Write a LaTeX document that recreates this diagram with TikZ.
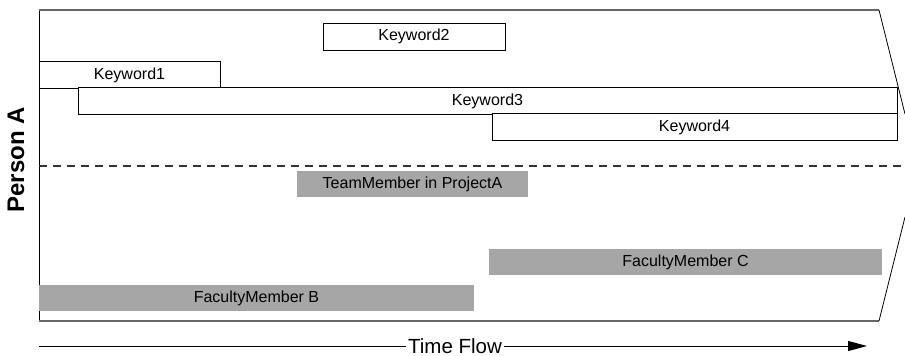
\documentclass[tikz,border=0pt]{standalone}
\usepackage{fontspec}
\setmainfont{Liberation Sans}
\usetikzlibrary{arrows.meta}
\begin{document}
\begin{tikzpicture}
[x=1pt,y=-1pt,
  kwdecorate/.style={shape=rectangle,draw=black,fill=white,line width=0.8pt,
    minimum height=26.5pt,inner sep=0pt,outer sep=0pt,
    font=\fontsize{16}{19}\selectfont},%
  roledecorate/.style={shape=rectangle,fill=black!35,draw=none,
    minimum height=26pt,inner sep=0pt,outer sep=0pt,
    font=\fontsize{16}{19}\selectfont},%
  framedecorate/.style={draw=black!60,line width=1.6pt},%
  arrowdecorate/.style={-{Triangle[length=19pt,width=10pt]},line width=1pt}]
\useasboundingbox (0,0) rectangle (905,356);
% frame of the time line
\draw[line width=0.9pt] (39,10) -- (39,321);
\draw[framedecorate] (39,10) -- (879,10);
\draw[framedecorate] (39,321) -- (879,321);
\draw[line width=0.8pt] (879,10) -- (905,114);
\draw[line width=0.8pt] (879,321) -- (905,217);
\draw[black!80,line width=1.1pt,dash pattern=on 8pt off 6pt] (39,166) -- (905,166);
% nodes: keywords
\node (kw2) at (414,36.75) [kwdecorate,minimum width=182pt] {Keyword2};
\node (kw1) at (129.5,75) [kwdecorate,minimum width=181pt] {Keyword1};
\node (kw3) at (487.5,101) [kwdecorate,minimum width=819pt] {Keyword3};
\node (kw4) at (694.5,127) [kwdecorate,minimum width=405pt] {Keyword4};
% nodes: roles
\node (team) at (412.5,184) [roledecorate,minimum width=231pt] {TeamMember in ProjectA};
\node (facC) at (685.5,262) [roledecorate,minimum width=393pt] {FacultyMember C};
\node (facB) at (256.5,298) [roledecorate,minimum width=435pt] {FacultyMember B};
% person and time axis
\node (person) at (16,160) [rotate=90,font=\fontsize{24}{28}\selectfont\bfseries] {Person A};
\coordinate (tstart) at (39,346);
\coordinate (tend) at (867,346);
\node (flow) at (455,346) [inner sep=2pt,font=\fontsize{20.5}{24}\selectfont] {Time Flow};
\path
(tstart) edge[line width=1pt] (flow.west)
(flow.east) edge[arrowdecorate] (tend);
\end{tikzpicture}
\end{document}
